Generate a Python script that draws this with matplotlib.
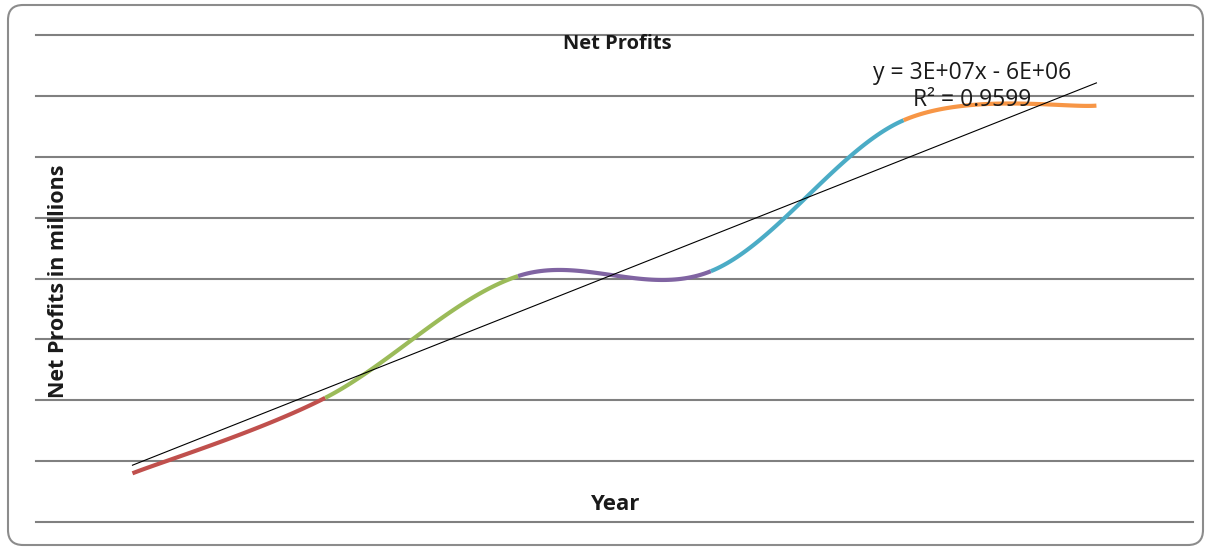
import numpy as np
import matplotlib
matplotlib.use("Agg")
import matplotlib.pyplot as plt
from matplotlib.patches import FancyBboxPatch

plt.rcParams['font.family'] = ['Open Sans', 'DejaVu Sans']

# yearly net profit
years = [1, 2, 3, 4, 5, 6]
profits = [2.0e7, 5.1e7, 1.01e8, 1.03e8, 1.65e8, 1.71e8]
seg_colors = ['#C0504D', '#9BBB59', '#8064A2', '#4BACC6', '#F79646']
eq_text = 'y = 3E+07x - 6E+06'
r2_text = 'R² = 0.9599'


def smooth_segment(x, y, i, n=60):
    # bezier between point i and i+1, tangents from neighbours
    px = np.array(x, float)
    py = np.array(y, float)
    k0 = max(i - 1, 0)
    k3 = min(i + 2, len(px) - 1)
    p0 = np.array([px[i], py[i]])
    p3 = np.array([px[i + 1], py[i + 1]])
    c1 = p0 + (p3 - np.array([px[k0], py[k0]])) / 6
    c2 = p3 - (np.array([px[k3], py[k3]]) - p0) / 6
    t = np.linspace(0, 1, n)[:, None]
    pts = ((1 - t) ** 3) * p0 + 3 * ((1 - t) ** 2) * t * c1 + 3 * (1 - t) * t ** 2 * c2 + t ** 3 * p3
    return pts[:, 0], pts[:, 1]


fig = plt.figure(figsize=(12.1, 5.48), dpi=100)
ax = fig.add_axes([0.0298, 0.0474, 0.956, 0.8887])

for i in range(len(years) - 1):
    sx, sy = smooth_segment(years, profits, i)
    ax.plot(sx, sy, color=seg_colors[i], lw=3, solid_capstyle='butt', zorder=3)

# linear trendline
slope, intercept = np.polyfit(years, profits, 1)
tx = np.array([years[0], years[-1]])
ax.plot(tx, slope * tx + intercept, color='black', lw=0.8, zorder=4)

ax.set_xlim(0.5, 6.5)
ax.set_ylim(0, 2.0e8)
ax.set_yticks(np.arange(0, 2.0e8 + 1, 2.5e7))
ax.set_xticks([])
ax.tick_params(length=0, labelleft=False)
ax.grid(axis='y', color='#808080', lw=1.5)
for gl in ax.get_ygridlines():
    gl.set_clip_on(False)
ax.set_axisbelow(True)
for s in ax.spines.values():
    s.set_visible(False)

fig.text(617 / 1210, 1 - 44 / 548, 'Net Profits', ha='center', va='center',
         fontsize=14.5, fontweight='bold', color='#1a1a1a')
fig.text(615 / 1210, 1 - 505 / 548, 'Year', ha='center', va='center',
         fontsize=16, fontweight='bold', color='#1a1a1a')
fig.text(59 / 1210, 1 - 281 / 548, 'Net Profits in millions', ha='center', va='center',
         rotation=90, fontsize=15.5, fontweight='bold', color='#1a1a1a')
fig.text(972 / 1210, 1 - 73 / 548, eq_text, ha='center', va='center', fontsize=16.5,
         color='#1a1a1a')
fig.text(972 / 1210, 1 - 100 / 548, r2_text, ha='center', va='center', fontsize=16.5,
         color='#1a1a1a')

# rounded chart border
border = FancyBboxPatch((0.23, 0.18), 11.65, 5.1, boxstyle='round,pad=0.15',
                        transform=fig.dpi_scale_trans, fill=False,
                        edgecolor='#8c8c8c', lw=1.5)
fig.patches.append(border)

fig.savefig('out.png', dpi=100)
